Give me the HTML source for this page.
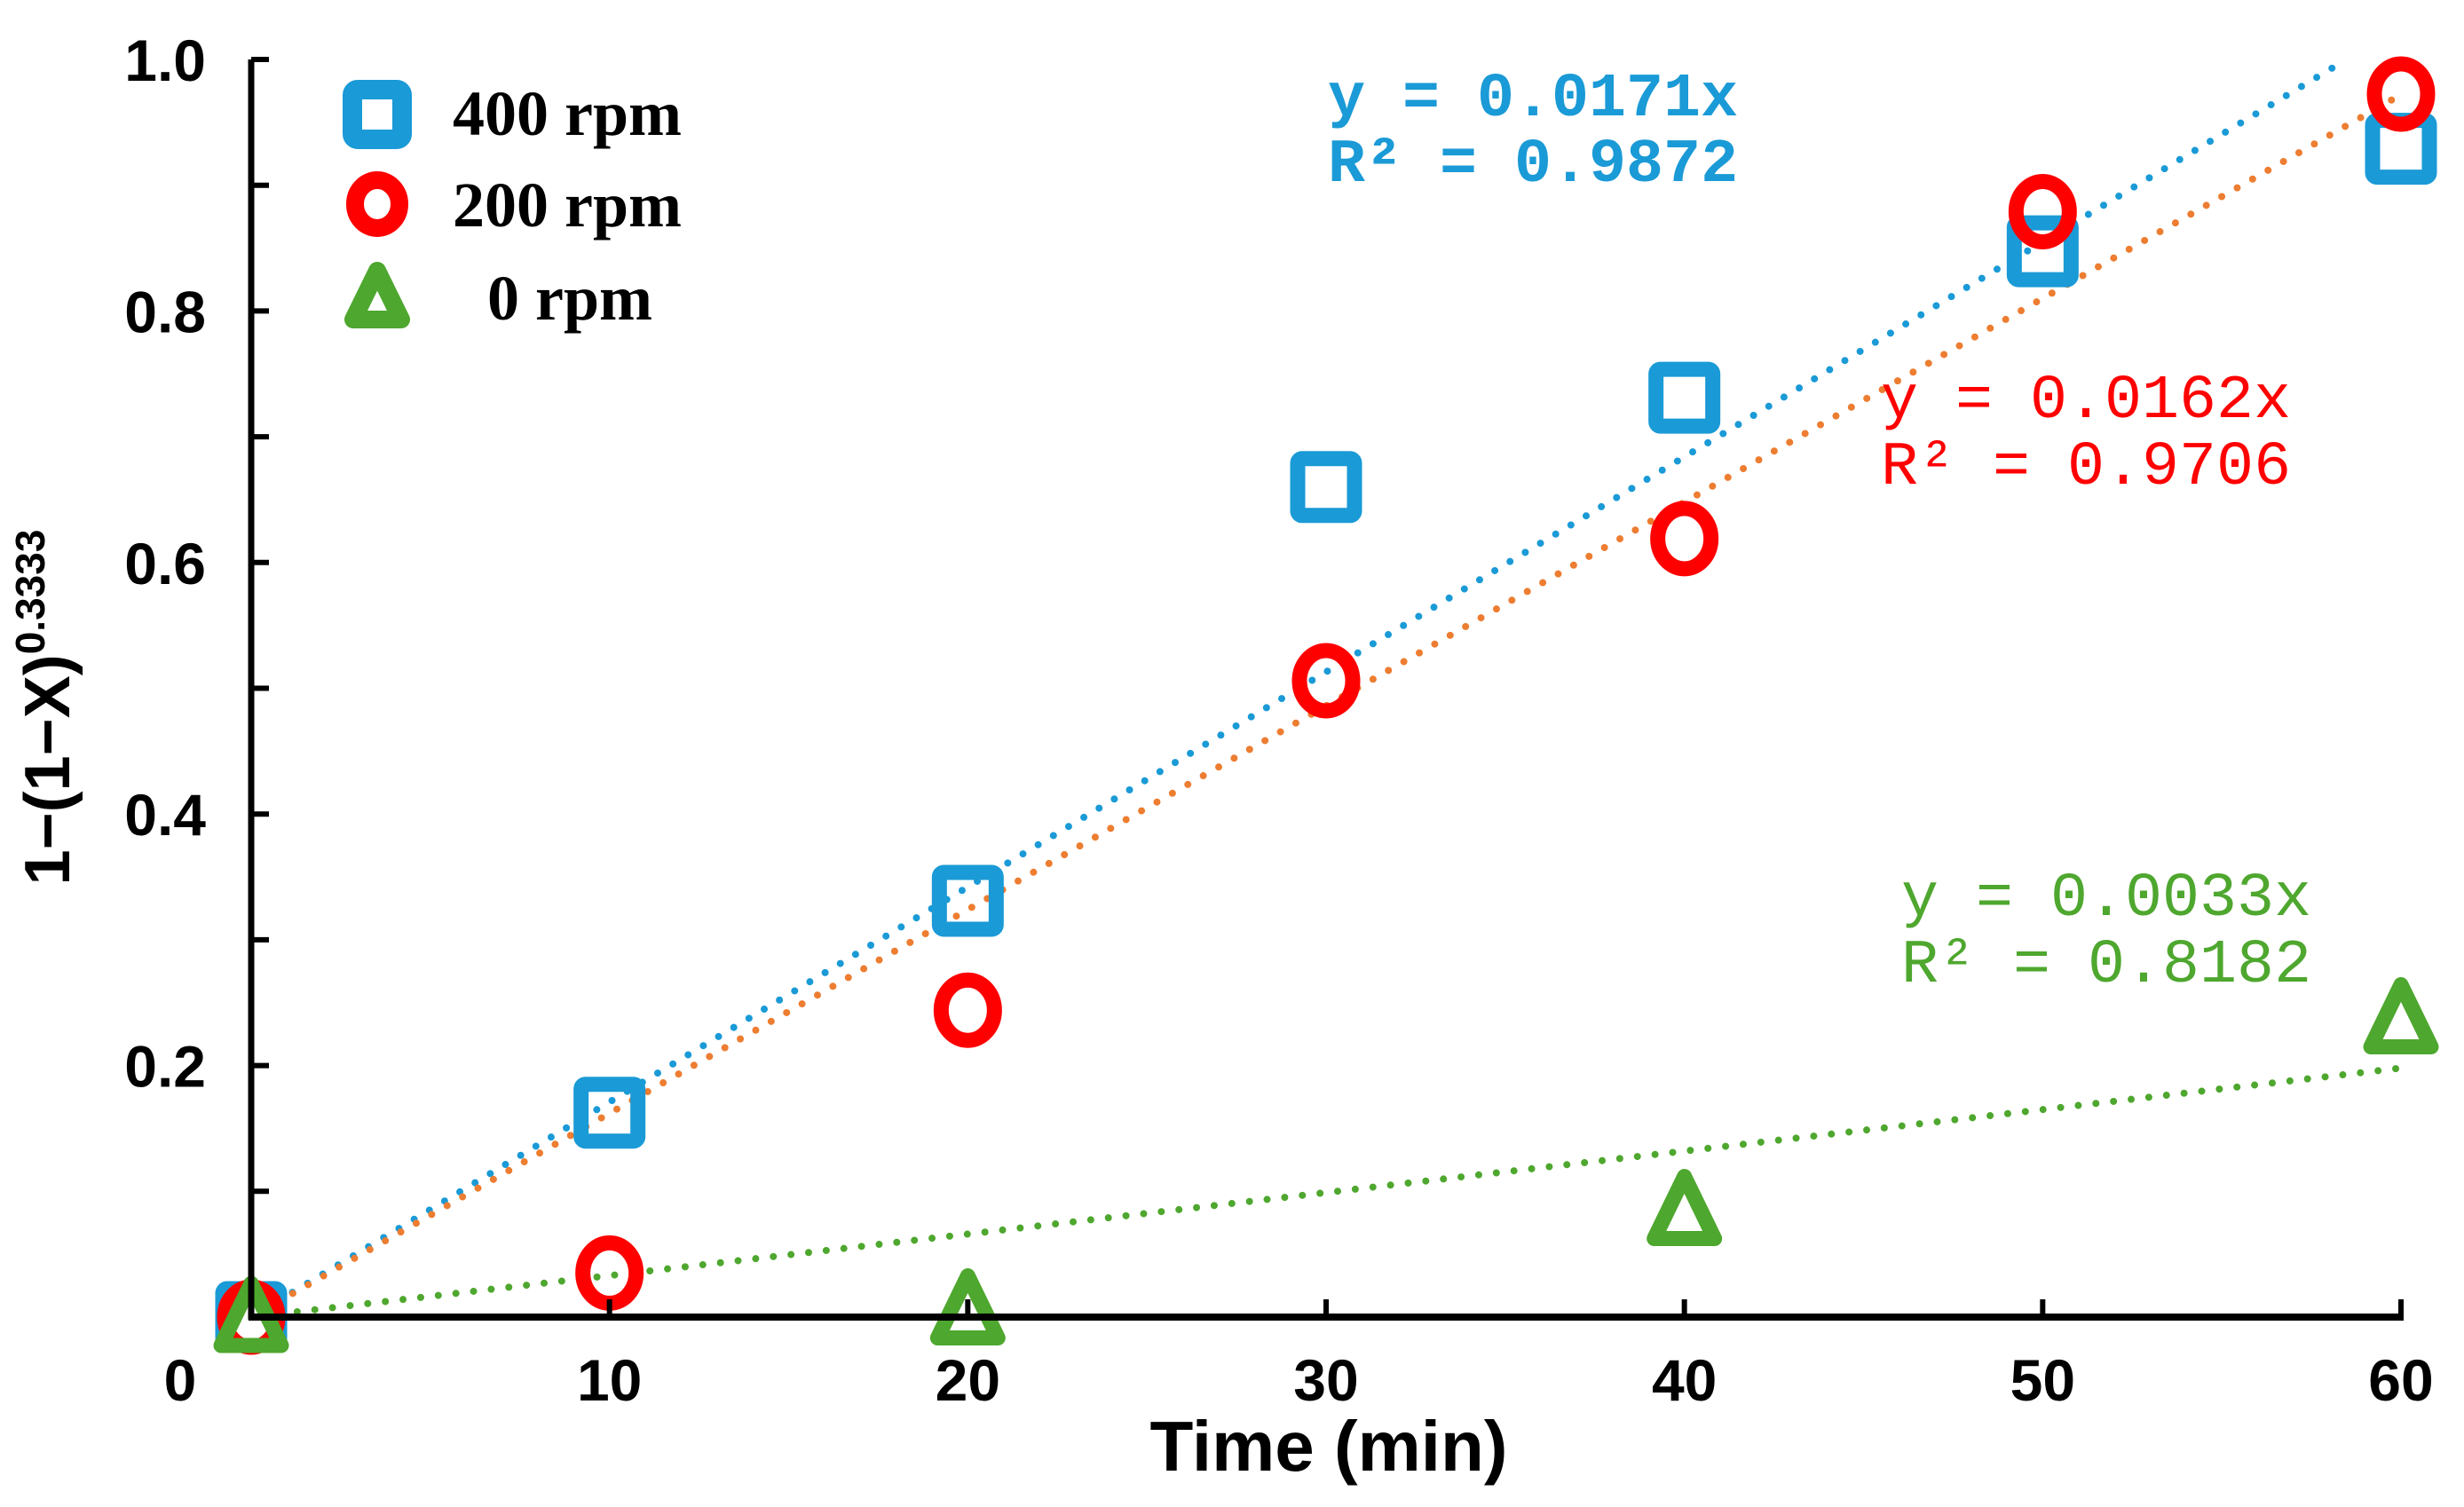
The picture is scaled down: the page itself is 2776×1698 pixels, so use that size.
<!DOCTYPE html>
<html><head><meta charset="utf-8"><style>
html,body{margin:0;padding:0;background:#fff;}
svg{display:block;}
.tick{font-family:"Liberation Sans",sans-serif;font-weight:bold;font-size:66px;fill:#000;}
.leg{font-family:"Liberation Serif",serif;font-weight:bold;font-size:72px;fill:#000;}
.eq{font-family:"Liberation Mono",monospace;font-size:70px;}
</style></head><body>
<svg id="chart" width="2776" height="1698" viewBox="0 0 2776 1698" xmlns="http://www.w3.org/2000/svg">
<g id="grid"></g>
<g id="trend"></g>
<g id="marks"></g>
<g id="axes"></g>
<g>
  <rect x="397" y="101" width="56" height="56" rx="6" fill="none" stroke="#1a9ad6" stroke-width="22"/>
  <text class="leg" x="510" y="152">400 rpm</text>
  <ellipse cx="425" cy="230" rx="25" ry="27" fill="none" stroke="#ff0000" stroke-width="20"/>
  <text class="leg" x="510" y="255">200 rpm</text>
  <polygon points="425,305 452,360 398,360" fill="none" stroke="#4ea72e" stroke-width="20" stroke-linejoin="round"/>
  <text class="leg" x="549" y="360">0 rpm</text>
</g>
<g>
  <text class="eq" x="1496" y="130" fill="#1a9ad6" font-weight="bold">y = 0.0171x</text>
  <text class="eq" x="1496" y="204" fill="#1a9ad6" font-weight="bold">R² = 0.9872</text>
  <text class="eq" x="2119" y="470" fill="#ff0000">y = 0.0162x</text>
  <text class="eq" x="2119" y="545" fill="#ff0000">R² = 0.9706</text>
  <text class="eq" x="2142" y="1031" fill="#4ea72e">y = 0.0033x</text>
  <text class="eq" x="2142" y="1106" fill="#4ea72e">R² = 0.8182</text>
</g>
<text x="1497" y="1657" text-anchor="middle" font-family="'Liberation Sans',sans-serif" font-weight="bold" font-size="80">Time (min)</text>
<text transform="translate(78,797) rotate(-90)" text-anchor="middle" font-family="'Liberation Sans',sans-serif" font-weight="bold" font-size="72">1−(1−X)<tspan font-size="46" dy="-28">0.3333</tspan></text>
</svg>
<script>
const times = [0,10,20,30,40,50,60];
const rpm400 = [0,0.1625,0.331,0.66,0.731,0.8475,0.929];
const rpm200 = [0,0.035,0.244,0.506,0.619,0.879,0.9725];
const times0 = [0,20,40,60];
const rpm0 = [0,0.006,0.085,0.2375];
const slopes = [0.0171,0.0162,0.0033];
const xTicks = [0,10,20,30,40,50,60];
const yTickLabels = ["0.2","0.4","0.6","0.8","1.0"];
const yTickVals = [0.2,0.4,0.6,0.8,1.0];

const NS="http://www.w3.org/2000/svg";
const X0=283,X1=2705,Y0=1484,Y1=67;
const sx=v=>X0+(v/60)*(X1-X0);
const sy=v=>Y0-v*(Y0-Y1);
function mk(tag,attrs,parent){const e=document.createElementNS(NS,tag);for(const k in attrs)e.setAttribute(k,attrs[k]);parent.appendChild(e);return e;}
const axes=document.getElementById('axes'),trend=document.getElementById('trend'),marks=document.getElementById('marks');

let a=mk('line',{x1:X0,y1:Y1,x2:X0,y2:Y0+3,stroke:'#000','stroke-width':7},axes);


a=mk('line',{x1:X0-3,y1:Y0,x2:X1+3,y2:Y0,stroke:'#000','stroke-width':8},axes);


for(let v=0.1;v<=1.001;v+=0.1){
  const t=mk('line',{x1:X0,y1:sy(v),x2:X0+20,y2:sy(v),stroke:'#000','stroke-width':6},axes);
  
  
}
yTickVals.forEach((v,i)=>{
  const t=mk('text',{x:232,y:sy(v)+24,'text-anchor':'end',class:'tick'},axes);
  t.textContent=yTickLabels[i];
  
  
});
xTicks.forEach(v=>{
  if(v>0){const t=mk('line',{x1:sx(v),y1:Y0,x2:sx(v),y2:Y0-20,stroke:'#000','stroke-width':6},axes);
  
  }
  const l=mk('text',{x:v===0?203:sx(v),y:1578,'text-anchor':'middle',class:'tick'},axes);
  l.textContent=v;
  
  
});

const tColors=['#1a9ad6','#ed7d31','#4ea72e'];
const tNames=['trendline-400rpm','trendline-200rpm','trendline-0rpm'];
slopes.forEach((m,i)=>{
  let xe=60; if(m*60>1) xe=1/m;
  const l=mk('line',{x1:sx(0.3),y1:sy(m*0.3),x2:sx(xe),y2:sy(m*xe),stroke:tColors[i],'stroke-width':8,'stroke-linecap':'round','stroke-dasharray':'0 20'},trend);
  
  
});

times.forEach((t,i)=>{
  const r=mk('rect',{x:sx(t)-32,y:sy(rpm400[i])-32,width:64,height:64,rx:5,fill:'none',stroke:'#1a9ad6','stroke-width':17},marks);
  
  
});
times.forEach((t,i)=>{
  const c=mk('ellipse',{cx:sx(t),cy:sy(rpm200[i]),rx:30,ry:34,fill:'none',stroke:'#ff0000','stroke-width':17},marks);
  
  
});
times0.forEach((t,i)=>{
  const x=sx(t),y=sy(rpm0[i]);
  const p=mk('polygon',{points:`${x},${y-38} ${x+34},${y+32} ${x-34},${y+32}`,fill:'none',stroke:'#4ea72e','stroke-width':17,'stroke-linejoin':'round'},marks);
  
  
});
</script>
</body></html>
